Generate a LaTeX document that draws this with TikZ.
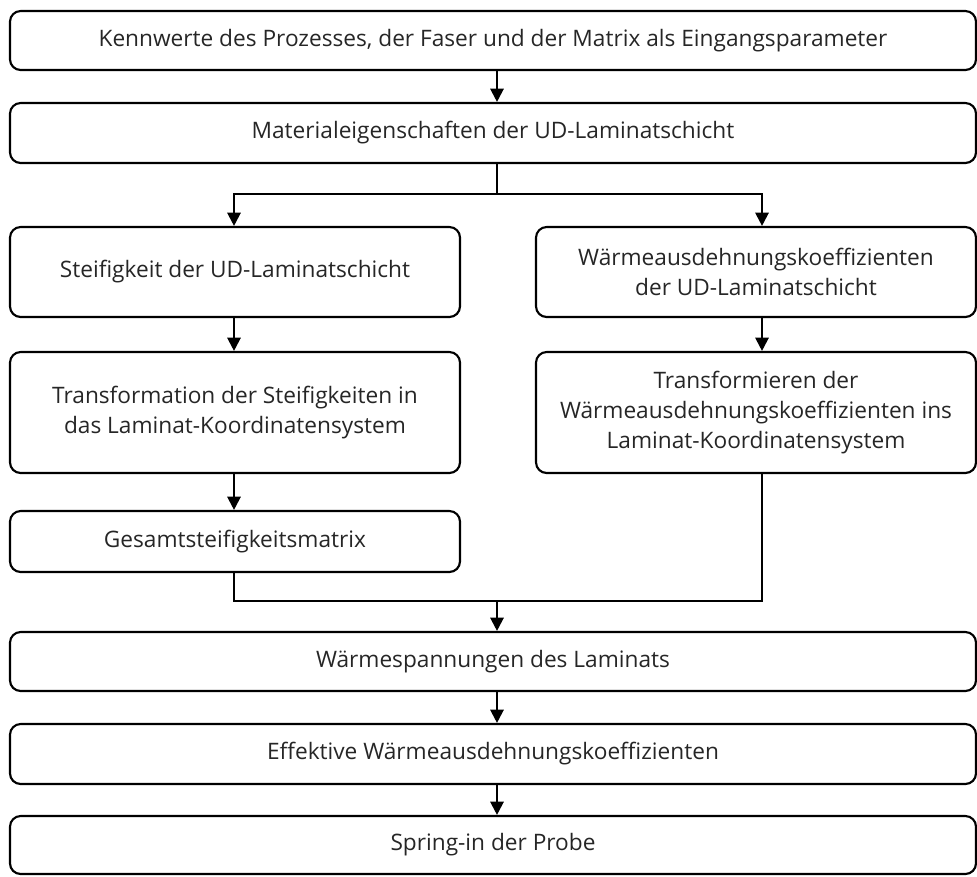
\documentclass[tikz,border=0pt]{standalone}
\usepackage{fontspec}
\setmainfont{Open Sans}
\usetikzlibrary{arrows.meta}
\begin{document}
\begin{tikzpicture}[x=0.75pt,y=-0.75pt,
  every node/.style={font=\fontsize{17}{22.5}\selectfont, text=black!85},
  boxbase/.style={draw=black, line width=1.6pt, rounded corners=8pt, align=center, inner sep=0pt},
  widebox/.style={boxbase, minimum width=966*0.75pt},
  halfbox/.style={boxbase, minimum width=450*0.75pt},
  rightbox/.style={boxbase, minimum width=440*0.75pt},
  link/.style={line width=1.6pt, draw=black},
  arr/.style={link, -{Triangle[width=10pt,length=10pt]}}]

\useasboundingbox (0,0) rectangle (977,876);

% process chain boxes
\node[widebox, minimum height=59*0.75pt] (b1) at (493,40.5)
  {Kennwerte des Prozesses, der Faser und der Matrix als Eingangsparameter};
\node[widebox, minimum height=60*0.75pt] (b2) at (493,133)
  {Materialeigenschaften der UD-Laminatschicht};
\node[halfbox, minimum height=90*0.75pt] (b3l) at (235,272)
  {Steifigkeit der UD-Laminatschicht};
\node[rightbox, minimum height=90*0.75pt] (b3r) at (756,272)
  {Wärmeausdehnungskoeffizienten\\der UD-Laminatschicht};
\node[halfbox, minimum height=121*0.75pt] (b4l) at (235,412.5)
  {Transformation der Steifigkeiten in\\das Laminat-Koordinatensystem};
\node[rightbox, minimum height=121*0.75pt] (b4r) at (756,412.5)
  {Transformieren der\\Wärmeausdehnungskoeffizienten ins\\Laminat-Koordinatensystem};
\node[halfbox, minimum height=61*0.75pt] (b5) at (235,541.5)
  {Gesamtsteifigkeitsmatrix};
\node[widebox, minimum height=59*0.75pt] (b6) at (493,661.5)
  {Wärmespannungen des Laminats};
\node[widebox, minimum height=60*0.75pt] (b7) at (493,754)
  {Effektive Wärmeausdehnungskoeffizienten};
\node[widebox, minimum height=58*0.75pt] (b8) at (493,845)
  {Spring-in der Probe};

% connector columns and junctions
\coordinate (mx) at (497,0);
\coordinate (lx) at (234,0);
\coordinate (rx) at (762,0);
\coordinate (split) at (497,194);
\coordinate (merge) at (497,601);

% connectors
\draw[arr] (b1.south -| mx) -- (b2.north -| mx);
\draw[link] (b2.south -| mx) -- (split);
\draw[arr] (split) -| (b3l.north -| lx);
\draw[arr] (split) -| (b3r.north -| rx);
\draw[arr] (b3l.south -| lx) -- (b4l.north -| lx);
\draw[arr] (b3r.south -| rx) -- (b4r.north -| rx);
\draw[arr] (b4l.south -| lx) -- (b5.north -| lx);
\draw[link] (b5.south -| lx) |- (merge);
\draw[link] (b4r.south -| rx) |- (merge);
\draw[arr] (merge) -- (b6.north -| mx);
\draw[arr] (b6.south -| mx) -- (b7.north -| mx);
\draw[arr] (b7.south -| mx) -- (b8.north -| mx);
\end{tikzpicture}
\end{document}
